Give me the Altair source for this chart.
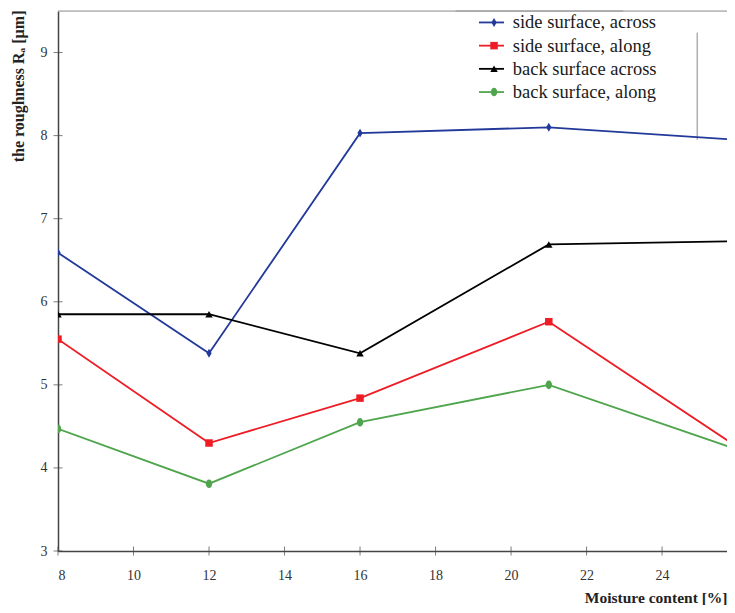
import altair as alt
import pandas as pd

moisture = [8, 12, 16, 21, 26]
series_names = ["side surface, across", "side surface, along", "back surface across", "back surface, along"]
side_across = [6.59, 5.38, 8.03, 8.10, 7.95]
side_along = [5.55, 4.30, 4.84, 5.76, 4.25]
back_across = [5.85, 5.85, 5.38, 6.69, 6.73]
back_along = [4.47, 3.81, 4.55, 5.00, 4.22]
colors = ["#22399a", "#ee1c25", "#000000", "#4ea54b"]
shapes = [
    "M0,-1.2L0.7,0L0,1.2L-0.7,0Z",
    "square",
    "triangle-up",
    "M0,-1.15A0.85,1.15 0 1,1 0,1.15A0.85,1.15 0 1,1 0,-1.15Z",
]
x_ticks = [8, 10, 12, 14, 16, 18, 20, 22, 24]
y_ticks = [3, 4, 5, 6, 7, 8, 9]
x_min, x_max = 8, 25.72
y_min, y_max = 3, 9.5
border_x = [8, 18.53]
border_x2 = [22.97, 25.72]
stray_x = [24.93]
stray_y = [9.24]
stray_y2 = [7.95]

line_names = [n + "\u00a0" for n in series_names]
rows = []
for name, lname, vals in zip(series_names, line_names, [side_across, side_along, back_across, back_along]):
    for m, v in zip(moisture, vals):
        rows.append({"moisture": m, "ra": v, "series": name, "series_line": lname})
df = pd.DataFrame(rows)

FONT = "Liberation Serif"
LEG_FS = 18.5
LEG_PAD = 4.2
xs = alt.Scale(domain=[x_min, x_max], nice=False, zero=False)
ys = alt.Scale(domain=[y_min, y_max], nice=False, zero=False)

x_axis = alt.Axis(values=x_ticks, format="d",
                  title="Moisture content [%]", titleAnchor="end", titleAlign="right",
                  titleBaseline="alphabetic", titleX=669, titleY=51, titleFontSize=15.5)
y_axis = alt.Axis(values=y_ticks, format="d",
                  title="the roughness Rₐ [µm]", titleAngle=270, titleAlign="right",
                  titleBaseline="middle", titleX=-40, titleY=-1, titleFontSize=16)

base = alt.Chart(df)

border = alt.Chart(pd.DataFrame({"x": border_x, "x2": border_x2, "y": [y_max, y_max]})).mark_rule(
    color="#999999", strokeWidth=1).encode(
    x=alt.X("x:Q", scale=xs, axis=x_axis), x2="x2:Q", y=alt.Y("y:Q", scale=ys, axis=y_axis))

stray = alt.Chart(pd.DataFrame({"x": stray_x, "y": stray_y, "y2": stray_y2})).mark_rule(
    color="#888888", strokeWidth=1).encode(x=alt.X("x:Q", scale=xs, axis=x_axis),
                                           y=alt.Y("y:Q", scale=ys, axis=y_axis), y2="y2:Q")

lines = base.mark_line(strokeWidth=1.8, clip=True).encode(
    x=alt.X("moisture:Q", scale=xs, axis=x_axis),
    y=alt.Y("ra:Q", scale=ys, axis=y_axis),
    stroke=alt.Stroke("series_line:N", scale=alt.Scale(domain=line_names, range=colors),
                      legend=alt.Legend(title=None, orient="none", legendX=424.25, legendY=2.2, padding=0,
                                        symbolType="M-2,0H2", symbolSize=156, symbolStrokeWidth=1.8,
                                        labelFont=FONT, labelFontSize=LEG_FS, labelColor="#1a1a1a",
                                        labelOffset=12, rowPadding=LEG_PAD, labelLimit=300)),
)

points = base.mark_point(filled=True, size=56, opacity=1, clip=True).encode(
    x=alt.X("moisture:Q", scale=xs, axis=x_axis),
    y=alt.Y("ra:Q", scale=ys, axis=y_axis),
    fill=alt.Fill("series:N", scale=alt.Scale(domain=series_names, range=colors),
                  legend=alt.Legend(title=None, orient="none", legendX=426.8, legendY=2.2, padding=0,
                                    symbolSize=56, symbolStrokeWidth=0, labelExpr="''",
                                    labelFont=FONT, labelFontSize=LEG_FS, labelOffset=11,
                                    rowPadding=LEG_PAD)),
    shape=alt.Shape("series:N", scale=alt.Scale(domain=series_names, range=shapes),
                    legend=alt.Legend(title=None, orient="none", legendX=426.8, legendY=2.2, padding=0,
                                      symbolSize=56, symbolStrokeWidth=0, labelExpr="''",
                                      labelFont=FONT, labelFontSize=LEG_FS, labelOffset=11,
                                      rowPadding=LEG_PAD)),
)

xtick_df = pd.DataFrame({"x": x_ticks, "y": [y_min] * len(x_ticks)})
ytick_df = pd.DataFrame({"x": [x_min] * len(y_ticks), "y": y_ticks})
xticks = alt.Chart(xtick_df).mark_tick(orient="vertical", size=9, thickness=1, color="#444444").encode(
    x=alt.X("x:Q", scale=xs, axis=x_axis), y=alt.Y("y:Q", scale=ys, axis=y_axis))
yticks = alt.Chart(ytick_df).mark_tick(orient="horizontal", size=9, thickness=1, color="#444444").encode(
    x=alt.X("x:Q", scale=xs, axis=x_axis), y=alt.Y("y:Q", scale=ys, axis=y_axis))

chart = alt.layer(border, stray, lines, points, xticks, yticks).properties(
    width=669, height=540,
    autosize=alt.AutoSizeParams(type="none"),
    padding={"left": 50, "top": 3, "right": 0, "bottom": 54},
).configure_view(stroke=None).configure(background="white").configure_axis(
    ticks=False, grid=False, labelFont=FONT, labelFontSize=14, labelColor="#333333",
    domainColor="#444444", domainWidth=1.5, titleFont=FONT,
    titleFontWeight="bold", titleColor="#222222",
).configure_axisX(labelPadding=17).configure_axisY(labelPadding=11)

chart.save("out.html", embed_options={"renderer": "svg", "actions": False})
